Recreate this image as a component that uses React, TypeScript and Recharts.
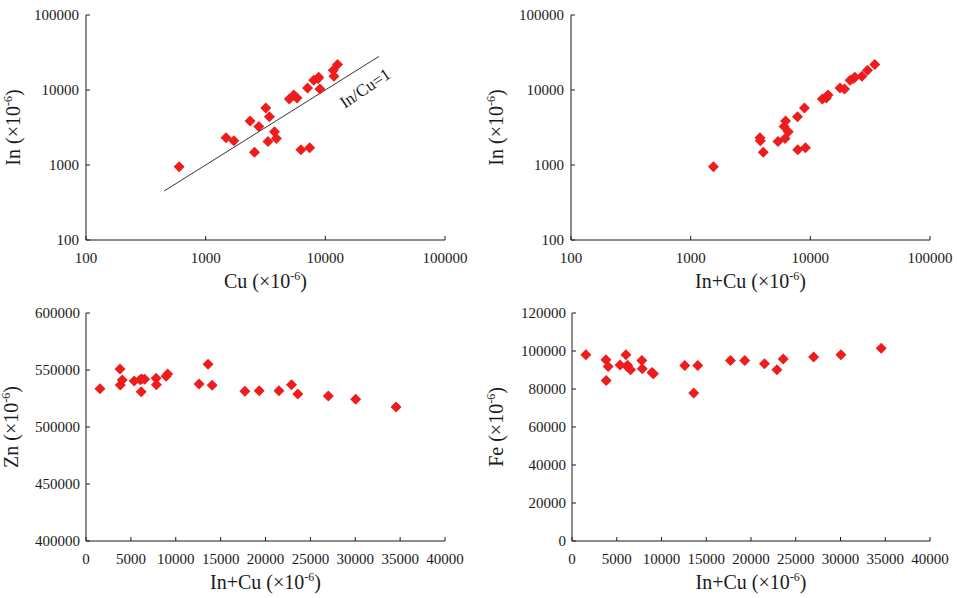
import React from "react";
import {
  ScatterChart,
  Scatter,
  XAxis,
  YAxis,
  ReferenceLine,
  ReferenceDot,
} from "recharts";

// Sample values (×10^-6)
const IN = [950, 2310, 2100, 1480, 2050, 3250, 2250, 3860, 2780, 4400, 1600, 5750, 1700, 7600, 7800, 8600, 10600, 10300, 13500, 14200, 14800, 15200, 18400, 21900];
const CU = [600, 1480, 1720, 2560, 3320, 2780, 3900, 2350, 3760, 3410, 6250, 3180, 7400, 5000, 5800, 5450, 7100, 9000, 8000, 8700, 8800, 11800, 11650, 12650];
const ZN = [533600, 550900, 536800, 541200, 540400, 541500, 531000, 542000, 541800, 542700, 537000, 544500, 546500, 537700, 555000, 536600, 531300, 531800, 531800, 537000, 529000, 527200, 524300, 517500];
const FE = [98000, 95400, 84500, 91900, 92600, 98000, 91900, 92500, 90100, 95000, 90700, 88700, 88000, 92400, 77900, 92400, 95000, 95000, 93300, 90100, 95800, 96800, 98000, 101500];

const LOG_TICKS = [100, 1000, 10000, 100000];
const ZN_TICKS = [400000, 450000, 500000, 550000, 600000];
const FE_TICKS = [0, 20000, 40000, 60000, 80000, 100000, 120000];
const SUM_TICKS = [0, 5000, 10000, 15000, 20000, 25000, 30000, 35000, 40000];
const RATIO_LINE = [450, 28000];

const SUM = IN.map((v, i) => v + CU[i]);
const dataCuIn = IN.map((v, i) => ({ x: CU[i], y: v }));
const dataSumIn = IN.map((v, i) => ({ x: SUM[i], y: v }));
const dataSumZn = ZN.map((v, i) => ({ x: SUM[i], y: v }));
const dataSumFe = FE.map((v, i) => ({ x: SUM[i], y: v }));

const FONT = "'Liberation Serif', 'Times New Roman', serif";
const RED = "#ee1c1c";
const INK = "#1a1a1a";

const Diamond = (props: any) => {
  const { cx, cy } = props;
  const r = 5.5;
  return (
    <path
      d={`M${cx},${cy - r} L${cx + r},${cy} L${cx},${cy + r} L${cx - r},${cy} Z`}
      fill={RED}
    />
  );
};

const tickStyle = { fontFamily: FONT, fontSize: 15, fill: INK };

const xTitle = (name: string) => (props: any) => {
  const vb = props.viewBox || {};
  const cx = vb.x + vb.width / 2;
  const y = vb.y + 48;
  return (
    <text x={cx} y={y} textAnchor="middle" fontFamily={FONT} fontSize={20} fill={INK}>
      <tspan>{name} (×10</tspan>
      <tspan dy={-8} fontSize={12}>-6</tspan>
      <tspan dy={8}>)</tspan>
    </text>
  );
};

const yTitle = (name: string, xPos: number) => (props: any) => {
  const vb = props.viewBox || {};
  const cy = vb.y + vb.height / 2;
  const x = xPos;
  return (
    <text
      x={x}
      y={cy}
      textAnchor="middle"
      transform={`rotate(-90, ${x}, ${cy})`}
      fontFamily={FONT}
      fontSize={20}
      fill={INK}
    >
      <tspan>{name} (×10</tspan>
      <tspan dy={-8} fontSize={12}>-6</tspan>
      <tspan dy={8}>)</tspan>
    </text>
  );
};

const ratioLabel = (props: any) => {
  const vb = props.viewBox || {};
  const x = vb.x + (vb.width || 0) / 2;
  const y = vb.y + (vb.height || 0) / 2;
  return (
    <text
      x={x}
      y={y}
      textAnchor="middle"
      dominantBaseline="central"
      transform={`rotate(-34, ${x}, ${y})`}
      fontFamily={FONT}
      fontSize={17}
      fill={INK}
    >
      In/Cu=1
    </text>
  );
};

const axisCommon = {
  stroke: INK,
  tickSize: -4,
  tick: tickStyle,
  axisLine: { stroke: INK, strokeWidth: 1 },
  tickLine: { stroke: INK, strokeWidth: 1 },
};

export default function App() {
  return (
    <div style={{ position: "absolute", left: 0, top: 0, width: 957, height: 598, background: "#fff" }}>
      {/* Top-left: In vs Cu */}
      <div style={{ position: "absolute", left: 0, top: 0 }}>
        <ScatterChart width={478} height={298} margin={{ top: 15, right: 33, bottom: 28, left: 26 }}>
          <XAxis
            {...axisCommon}
            dataKey="x"
            type="number"
            scale="log"
            domain={[100, 100000]}
            ticks={LOG_TICKS}
            allowDataOverflow
            height={30}
            tickMargin={16}
            label={{ content: xTitle("Cu") }}
          />
          <YAxis
            {...axisCommon}
            dataKey="y"
            type="number"
            scale="log"
            domain={[100, 100000]}
            ticks={LOG_TICKS}
            allowDataOverflow
            width={60}
            tickMargin={11}
            label={{ content: yTitle("In", 20) }}
          />
          <ReferenceLine
            segment={[
              { x: RATIO_LINE[0], y: RATIO_LINE[0] },
              { x: RATIO_LINE[1], y: RATIO_LINE[1] },
            ]}
            stroke="#333"
            strokeWidth={1}
            ifOverflow="visible"
          />
          <Scatter data={dataCuIn} shape={Diamond} isAnimationActive={false} />
          <ReferenceDot x={21500} y={10500} r={0} fill="none" stroke="none" label={{ content: ratioLabel }} />
        </ScatterChart>
      </div>

      {/* Top-right: In vs In+Cu */}
      <div style={{ position: "absolute", left: 478, top: 0 }}>
        <ScatterChart width={479} height={298} margin={{ top: 15, right: 27, bottom: 28, left: 33 }}>
          <XAxis
            {...axisCommon}
            dataKey="x"
            type="number"
            scale="log"
            domain={[100, 100000]}
            ticks={LOG_TICKS}
            allowDataOverflow
            height={30}
            tickMargin={16}
            label={{ content: xTitle("In+Cu") }}
          />
          <YAxis
            {...axisCommon}
            dataKey="y"
            type="number"
            scale="log"
            domain={[100, 100000]}
            ticks={LOG_TICKS}
            allowDataOverflow
            width={60}
            tickMargin={11}
            label={{ content: yTitle("In", 25) }}
          />
          <Scatter data={dataSumIn} shape={Diamond} isAnimationActive={false} />
        </ScatterChart>
      </div>

      {/* Bottom-left: Zn vs In+Cu */}
      <div style={{ position: "absolute", left: 0, top: 298 }}>
        <ScatterChart width={478} height={300} margin={{ top: 15, right: 33, bottom: 27, left: 26 }}>
          <XAxis
            {...axisCommon}
            dataKey="x"
            type="number"
            domain={[0, 40000]}
            ticks={SUM_TICKS}
            interval={0}
            height={30}
            tickMargin={16}
            label={{ content: xTitle("In+Cu") }}
          />
          <YAxis
            {...axisCommon}
            dataKey="y"
            type="number"
            domain={[400000, 600000]}
            ticks={ZN_TICKS}
            interval={0}
            width={60}
            tickMargin={10}
            label={{ content: yTitle("Zn", 18) }}
          />
          <Scatter data={dataSumZn} shape={Diamond} isAnimationActive={false} />
        </ScatterChart>
      </div>

      {/* Bottom-right: Fe vs In+Cu */}
      <div style={{ position: "absolute", left: 478, top: 298 }}>
        <ScatterChart width={479} height={300} margin={{ top: 15, right: 27, bottom: 27, left: 34 }}>
          <XAxis
            {...axisCommon}
            dataKey="x"
            type="number"
            domain={[0, 40000]}
            ticks={SUM_TICKS}
            interval={0}
            height={30}
            tickMargin={16}
            label={{ content: xTitle("In+Cu") }}
          />
          <YAxis
            {...axisCommon}
            dataKey="y"
            type="number"
            domain={[0, 120000]}
            ticks={FE_TICKS}
            interval={0}
            width={60}
            tickMargin={10}
            label={{ content: yTitle("Fe", 25) }}
          />
          <Scatter data={dataSumFe} shape={Diamond} isAnimationActive={false} />
        </ScatterChart>
      </div>
    </div>
  );
}
